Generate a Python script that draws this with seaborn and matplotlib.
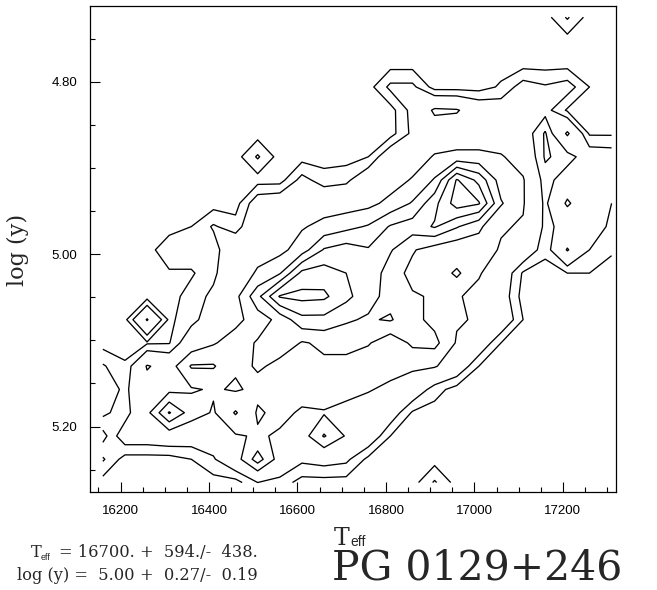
import numpy as np
import matplotlib
matplotlib.use("Agg")
import matplotlib.pyplot as plt
import seaborn as sns

# grid nodes of the fit surface
teff_nodes = [16160, 16210, 16260, 16310, 16360, 16410, 16460, 16510, 16560, 16610,
              16660, 16710, 16760, 16810, 16860, 16910, 16960, 17010, 17060, 17110,
              17160, 17210, 17260, 17310]
logy_nodes = [4.725, 4.752, 4.779, 4.806, 4.833, 4.860, 4.887, 4.914, 4.941, 4.968,
              4.995, 5.022, 5.049, 5.076, 5.103, 5.130, 5.157, 5.184, 5.211, 5.238, 5.265]

# surface values (rows = log y, cols = Teff)
surface = [
    [0, 0, 0, 0, 0, 0, 0, 0, 0, 0, 0, 0, 0, 0, 0, 0, 0, 0, 0, 0, 0, 1.1, 0, 0],
    [0, 0, 0, 0, 0, 0, 0, 0, 0, 0, 0, 0, 0, 0, 0, 0, 0, 0, 0, 0, 0, 0, 0, 0],
    [0, 0, 0, 0, 0, 0, 0, 0, 0, 0, 0, 0, 0, 0, 0, 0, 0, 0, 0, 0, 0, 0, 0, 0],
    [0, 0, 0, 0, 0, 0, 0, 0, 0, 0, 0, 0, 0, 1.2, 1.2, 0, 0, 0, 0.4, 1.4, 1.1, 1.4, 0.3, 0],
    [0, 0, 0, 0, 0, 0, 0, 0, 0, 0, 0, 0, 0, 0, 1.3, 2.7, 2.6, 1.8, 1.6, 1.7, 1.3, 0.2, 0, 0],
    [0, 0, 0, 0, 0, 0, 0, 0, 0, 0, 0, 0, 0, 0, 1.2, 1.8, 1.8, 1.8, 1.8, 1.6, 0.2, 2.7, 0.2, 0.2],
    [0, 0, 0, 0, 0, 0, 0, 1.1, 0, 0, 0, 0, 0.3, 1.8, 1.9, 2.6, 2.8, 2.8, 2.6, 2.0, 0.2, 0.6, 1.6, 1.5],
    [0, 0, 0, 0, 0, 0, 0, 0, 0, 1.3, 0.6, 0.8, 1.8, 2.0, 2.6, 3.6, 6.6, 5.2, 3.0, 2.6, 0.6, 1.6, 1.8, 1.4],
    [0, 0, 0, 0, 0, 0, 0, 1.6, 1.8, 2.0, 2.0, 2.0, 2.2, 2.8, 3.6, 5.2, 7.0, 6.6, 3.6, 2.6, 0.8, 2.7, 1.4, 1.0],
    [0, 0, 0, 0, 0.3, 1.1, 0.6, 2.0, 2.2, 2.4, 2.8, 3.2, 3.6, 4.6, 5.0, 5.6, 4.6, 3.7, 2.6, 2.4, 0.8, 1.3, 1.6, 0.8],
    [0, 0, 0, 0.8, 0.8, 0.6, 2.0, 2.2, 2.2, 3.0, 4.6, 5.0, 4.6, 4.6, 3.6, 3.0, 2.7, 3.0, 2.4, 1.9, 0.5, 2.6, 1.0, 0.4],
    [0, 0, 0, 0.2, 0.2, 0.8, 2.0, 2.6, 3.4, 5.8, 6.0, 5.5, 5.2, 4.0, 3.2, 2.8, 3.7, 2.6, 1.8, 0.2, 0, 0.3, 0.3, 0],
    [0, 0, 0, 0, 0.6, 1.2, 2.2, 4.2, 6.6, 6.8, 6.7, 5.8, 4.8, 4.2, 3.6, 3.4, 2.6, 2.2, 1.6, 0, 0, 0, 0, 0],
    [0, 0.1, 2.6, 0.15, 0.7, 1.6, 2.2, 3.0, 3.8, 5.2, 5.2, 4.6, 4.4, 4.6, 3.8, 3.2, 2.6, 2.4, 1.9, 0.3, 0, 0, 0, 0],
    [0, 0, 0.2, 0.25, 1.8, 2.4, 3.0, 3.6, 4.4, 3.4, 3.7, 4.0, 3.6, 2.8, 3.7, 3.8, 2.4, 1.8, 0.3, 0, 0, 0, 0, 0],
    [1.1, 0.4, 2.6, 2.0, 3.6, 3.6, 2.6, 3.8, 3.0, 3.0, 3.3, 3.0, 2.8, 3.0, 2.7, 2.6, 1.8, 0.3, 0, 0, 0, 0, 0, 0],
    [1.6, 0.8, 2.0, 2.2, 2.4, 2.6, 2.4, 2.7, 2.6, 2.8, 3.2, 2.8, 2.6, 2.2, 1.8, 0.6, 0, 0, 0, 0, 0, 0, 0, 0],
    [1.2, 0.6, 2.2, 4.6, 3.0, 2.4, 3.6, 2.4, 2.7, 2.4, 2.4, 2.2, 1.8, 1.6, 0.2, 0, 0, 0, 0, 0, 0, 0, 0, 0],
    [0, 1.6, 1.6, 1.8, 1.6, 1.6, 2.4, 2.6, 2.4, 2.0, 3.6, 2.4, 1.8, 0.3, 0, 0, 0, 0, 0, 0, 0, 0, 0, 0],
    [1.1, 0, 0, 0, 0.3, 0.9, 2.0, 4.0, 2.0, 1.2, 1.4, 1.2, 0.1, 0, 0, 0, 0, 0, 0, 0, 0, 0, 0, 0],
    [0, 0, 0, 0, 0, 0, 0, 1.0, 0.7, 0, 0, 0, 0, 0, 0, 1.1, 0, 0, 0, 0, 0, 0, 0, 0],
]
contour_levels = [0.3, 1.0, 2.5, 3.5, 4.5, 5.5, 6.5]

x_major = [16200, 16400, 16600, 16800, 17000, 17200]
x_labels = ["16200", "16400", "16600", "16800", "17000", "17200"]
y_major = [4.80, 5.00, 5.20]
y_labels = ["4.80", "5.00", "5.20"]

sns.set_style("white")
plt.rcParams["font.family"] = ["Liberation Sans", "DejaVu Sans"]

W, H = 657, 590
fig = plt.figure(figsize=(W / 100, H / 100), dpi=100)
ax_l, ax_r, ax_t, ax_b = 90, 616, 6, 492
ax = fig.add_axes([ax_l / W, 1 - ax_b / H, (ax_r - ax_l) / W, (ax_b - ax_t) / H])

X, Y = np.meshgrid(teff_nodes, logy_nodes)
Z = np.array(surface)
ax.contour(X, Y, Z, levels=contour_levels, colors="black", linewidths=0.95)

ax.set_xlim(16131, 17320)
ax.set_ylim(5.276, 4.712)

ax.set_xticks(x_major)
ax.set_xticklabels(x_labels)
ax.set_xticks(np.arange(16150, 17320, 50), minor=True)
ax.set_yticks(y_major)
ax.set_yticklabels(y_labels)
ax.set_yticks(np.arange(4.75, 5.27, 0.05), minor=True)
ax.tick_params(which="both", direction="in", bottom=True, left=True, top=False, right=False,
               colors="black", labelsize=9.5, width=0.8)
ax.tick_params(which="major", length=7, pad=9)
ax.tick_params(which="minor", length=3.5)
for s in ax.spines.values():
    s.set_color("black")
    s.set_linewidth(0.9)

serif = ["DejaVu Serif"]
# axis labels
fig.text(349 / W, 1 - 545 / H, "T", family=serif, fontsize=17, ha="right", va="baseline")
fig.text(350 / W, 1 - 546 / H, "eff", family=["Liberation Sans"], fontsize=10, ha="left", va="baseline")
fig.text(18 / W, 1 - 250 / H, "log (y)", family=serif, fontsize=16, rotation=90, ha="center", va="center")

# result block, columns aligned at the plus signs
x_plus = 140
fig.text(31 / W, 1 - 557 / H, "T", family=serif, fontsize=11.7, ha="left", va="baseline")
fig.text(41 / W, 1 - 560 / H, "eff", family=["Liberation Sans"], fontsize=6.5, ha="left", va="baseline")
fig.text(x_plus / W, 1 - 557 / H, "= 16700. ", family=serif, fontsize=11.7, ha="right", va="baseline")
fig.text(x_plus / W, 1 - 557 / H, "+  594./-  438.", family=serif, fontsize=11.7, ha="left", va="baseline")
fig.text(x_plus / W, 1 - 580 / H, "log (y) =  5.00 ", family=serif, fontsize=11.7, ha="right", va="baseline")
fig.text(x_plus / W, 1 - 580 / H, "+  0.27/-  0.19", family=serif, fontsize=11.7, ha="left", va="baseline")
fig.text(332 / W, 1 - 579 / H, "PG 0129+246", family=serif, fontsize=29.5, ha="left", va="baseline")

fig.savefig("out.png", dpi=100, facecolor="white")
